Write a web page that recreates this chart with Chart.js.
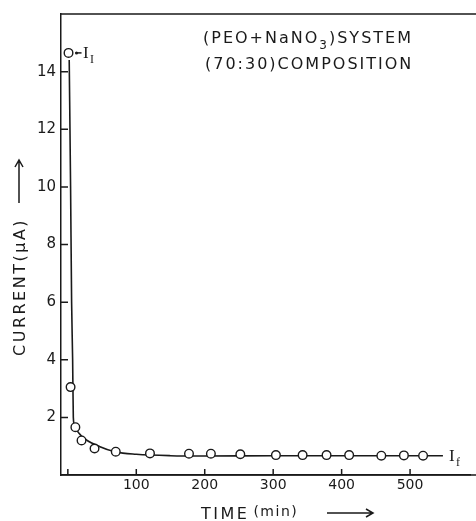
<!DOCTYPE html>
<html>
<head>
<meta charset="utf-8">
<script src="https://cdn.jsdelivr.net/npm/chart.js@4/dist/chart.umd.min.js"></script>
<style>
  html, body { margin: 0; padding: 0; background: #fff; }
  canvas { display: block; }
</style>
</head>
<body>
<canvas id="chart" width="476" height="521"></canvas>
<script>
// measured points (time in min, current in microamps)
const timeMin = [1, 4, 11, 20, 39, 70, 120, 177, 209, 252, 304, 343, 378, 411, 458, 491, 519];
const currentUA = [14.65, 3.05, 1.66, 1.2, 0.92, 0.81, 0.75, 0.74, 0.74, 0.72, 0.69, 0.69, 0.69, 0.69, 0.67, 0.68, 0.67];

// hand drawn curve through the points
const curveTime = [2, 4, 5.5, 7, 8, 10, 20, 47, 70, 100, 150, 200, 300, 400, 500, 548];
const curveCurrent = [14.4, 10, 6, 4, 2, 1.68, 1.35, 0.98, 0.8, 0.72, 0.67, 0.66, 0.67, 0.67, 0.67, 0.67];

// tick labels
const xTicks = [100, 200, 300, 400, 500];
const yTicks = [2, 4, 6, 8, 10, 12, 14];

const ink = '#1a1a1a';

// inward ticks, frame lines and all the hand lettering
const decorations = {
  id: 'decorations',
  afterDraw(chart) {
    const ctx = chart.ctx;
    const area = chart.chartArea;
    const xs = chart.scales.x;
    const ys = chart.scales.y;
    ctx.save();
    ctx.strokeStyle = ink;
    ctx.fillStyle = ink;
    ctx.lineWidth = 1.5;

    // top frame and bottom axis run off the right edge of the scan
    ctx.beginPath();
    ctx.moveTo(area.left, area.top);
    ctx.lineTo(chart.width, area.top);
    ctx.moveTo(area.left, area.bottom);
    ctx.lineTo(chart.width, area.bottom);
    ctx.stroke();

    // inward ticks
    ctx.beginPath();
    for (const v of [0].concat(xTicks)) {
      const px = xs.getPixelForValue(v);
      ctx.moveTo(px, area.bottom);
      ctx.lineTo(px, area.bottom - 6);
    }
    for (const v of yTicks) {
      const py = ys.getPixelForValue(v);
      ctx.moveTo(area.left, py);
      ctx.lineTo(area.left + 7, py);
    }
    ctx.stroke();

    // title
    ctx.letterSpacing = '2px';
    ctx.textBaseline = 'alphabetic';
    ctx.textAlign = 'left';
    ctx.font = '16px "DejaVu Sans"';
    let x = 203;
    const part1 = '(PEO+NaNO';
    ctx.fillText(part1, x, 43);
    x += ctx.measureText(part1).width;
    ctx.font = '12px "DejaVu Sans"';
    ctx.fillText('3', x, 49);
    x += ctx.measureText('3').width;
    ctx.font = '16px "DejaVu Sans"';
    ctx.fillText(')SYSTEM', x, 43);
    ctx.fillText('(70:30)COMPOSITION', 205, 69);

    // I_I and I_f labels
    ctx.letterSpacing = '0px';
    const pI = [xs.getPixelForValue(timeMin[0]), ys.getPixelForValue(currentUA[0])];
    ctx.beginPath();
    ctx.moveTo(pI[0] + 7, pI[1]);
    ctx.lineTo(pI[0] + 13, pI[1]);
    ctx.stroke();
    ctx.beginPath();
    ctx.arc(pI[0] + 8, pI[1], 1.5, 0, Math.PI * 2);
    ctx.fill();
    ctx.font = '17px "Liberation Serif"';
    ctx.fillText('I', 83, 58);
    ctx.font = '12px "Liberation Serif"';
    ctx.fillText('I', 90, 63);

    const endX = xs.getPixelForValue(curveTime[curveTime.length - 1]);
    const endY = ys.getPixelForValue(curveCurrent[curveCurrent.length - 1]);
    ctx.font = '17px "Liberation Serif"';
    ctx.fillText('I', endX + 6, endY + 5);
    ctx.font = '12px "Liberation Serif"';
    ctx.fillText('f', endX + 13, endY + 10);

    // x axis title
    ctx.letterSpacing = '2.5px';
    ctx.font = '16px "DejaVu Sans"';
    ctx.fillText('TIME', 201, 519);
    const tw = ctx.measureText('TIME').width;
    ctx.letterSpacing = '1.5px';
    ctx.font = '14px "DejaVu Sans"';
    ctx.fillText('(min)', 201 + tw + 4, 516);
    ctx.beginPath();
    ctx.moveTo(327, 513);
    ctx.lineTo(373, 513);
    ctx.moveTo(366, 509);
    ctx.lineTo(373, 513);
    ctx.lineTo(366, 517);
    ctx.stroke();

    // y axis title
    ctx.save();
    ctx.translate(25, 356);
    ctx.rotate(-Math.PI / 2);
    ctx.letterSpacing = '2.5px';
    ctx.font = '16px "DejaVu Sans"';
    ctx.fillText('CURRENT(\u03bcA)', 0, 0);
    ctx.beginPath();
    ctx.moveTo(153, -6);
    ctx.lineTo(196, -6);
    ctx.moveTo(189, -10);
    ctx.lineTo(196, -6);
    ctx.lineTo(189, -2);
    ctx.stroke();
    ctx.restore();

    ctx.restore();
  }
};

new Chart(document.getElementById('chart'), {
  type: 'scatter',
  data: {
    datasets: [
      {
        label: 'measured',
        data: timeMin.map((t, i) => ({ x: t, y: currentUA[i] })),
        pointStyle: 'circle',
        pointRadius: 4.3,
        pointBackgroundColor: '#fff',
        pointBorderColor: ink,
        pointBorderWidth: 1.4,
        showLine: false,
        order: 0
      },
      {
        label: 'curve',
        data: curveTime.map((t, i) => ({ x: t, y: curveCurrent[i] })),
        showLine: true,
        borderColor: ink,
        borderWidth: 1.6,
        pointRadius: 0,
        cubicInterpolationMode: 'monotone',
        order: 1
      }
    ]
  },
  options: {
    responsive: false,
    animation: false,
    devicePixelRatio: 1,
    layout: { padding: { top: 14, right: 0, left: 0, bottom: 0 } },
    plugins: {
      legend: { display: false },
      tooltip: { enabled: false }
    },
    scales: {
      x: {
        type: 'linear',
        min: -10,
        max: 588,
        grid: { display: false, tickLength: 0 },
        border: { display: true, color: ink, width: 1.5 },
        afterBuildTicks: (scale) => { scale.ticks = xTicks.map(v => ({ value: v })); },
        afterFit: (scale) => { scale.height = 46; },
        ticks: {
          color: ink,
          padding: 2,
          font: { family: 'DejaVu Sans', size: 14 }
        }
      },
      y: {
        min: 0,
        max: 16,
        grid: { display: false, tickLength: 0 },
        border: { display: true, color: ink, width: 1.5 },
        afterBuildTicks: (scale) => { scale.ticks = yTicks.map(v => ({ value: v })); },
        afterFit: (scale) => { scale.width = 61; },
        ticks: {
          color: ink,
          padding: 5,
          font: { family: 'DejaVu Sans', size: 15 }
        }
      }
    }
  },
  plugins: [decorations]
});
</script>
</body>
</html>
